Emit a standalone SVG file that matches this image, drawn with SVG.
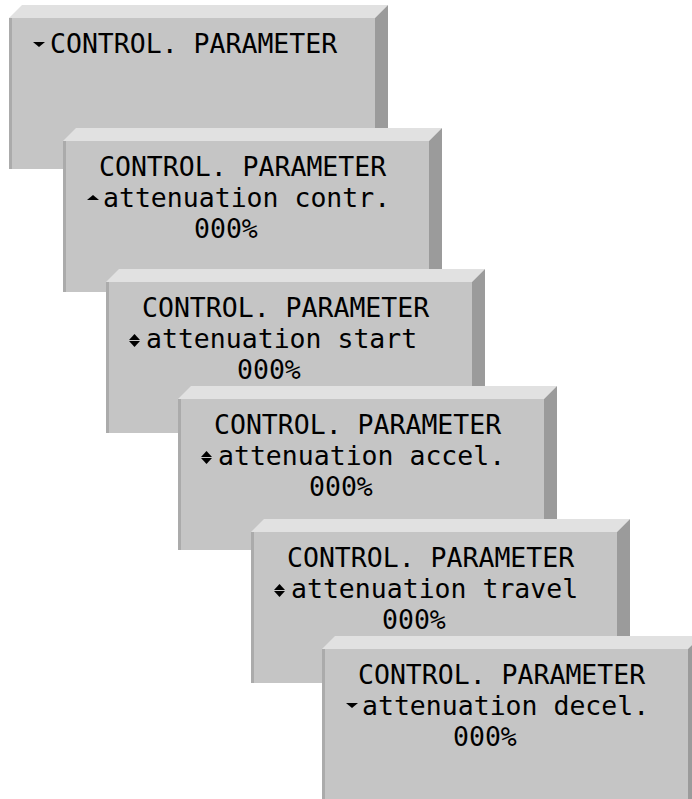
<svg xmlns="http://www.w3.org/2000/svg" width="692" height="799" viewBox="0 0 692 799">
  <defs>
    <style>
      .front { fill: #c5c5c5; }
      .top { fill: #e1e1e1; }
      .side { fill: #9b9b9b; }
      .edge { fill: #ababab; }
      .lcd { font-family: "DejaVu Sans Mono", "Liberation Mono", monospace; font-size: 26.5px; fill: #000000; }
      .ind { fill: #000000; }
    </style>
    <!-- one bevelled display panel, front face at (0,0), 366 x 151 -->
    <g id="panel">
      <polygon class="top" points="0,0 13,-13 379,-13 366,0"/>
      <polygon class="side" points="366,0 379,-13 379,151 366,151"/>
      <rect class="front" x="0" y="0" width="366" height="151"/>
      <rect class="edge" x="0" y="0" width="3" height="151"/>
    </g>
    <polygon id="ind-down" points="0,0 12,0 6,5"/>
    <polygon id="ind-up" points="6,0 12,5 0,5"/>
    <g id="ind-updown">
      <polygon points="5.5,0 11,6 0,6"/>
      <polygon points="0,7 11,7 5.5,13"/>
    </g>
  </defs>

  <!-- menu entry -->
  <g id="menu" transform="translate(9,18)">
    <use href="#panel"/>
    <use href="#ind-down" class="ind" x="24" y="24"/>
    <text class="lcd" x="41" y="35">CONTROL. PARAMETER</text>
  </g>

  <g id="attenuation-contr" transform="translate(63,141)">
    <use href="#panel"/>
    <text class="lcd" x="36" y="35">CONTROL. PARAMETER</text>
    <use href="#ind-up" class="ind" x="24" y="54"/>
    <text class="lcd" x="40" y="66">attenuation contr.</text>
    <text class="lcd" x="131" y="97">000%</text>
  </g>

  <g id="attenuation-start" transform="translate(106,282)">
    <use href="#panel"/>
    <text class="lcd" x="36" y="35">CONTROL. PARAMETER</text>
    <use href="#ind-updown" class="ind" x="23" y="52"/>
    <text class="lcd" x="40" y="66">attenuation start</text>
    <text class="lcd" x="131" y="97">000%</text>
  </g>

  <g id="attenuation-accel" transform="translate(178,399)">
    <use href="#panel"/>
    <text class="lcd" x="36" y="35">CONTROL. PARAMETER</text>
    <use href="#ind-updown" class="ind" x="23" y="52"/>
    <text class="lcd" x="40" y="66">attenuation accel.</text>
    <text class="lcd" x="131" y="97">000%</text>
  </g>

  <g id="attenuation-travel" transform="translate(251,532)">
    <use href="#panel"/>
    <text class="lcd" x="36" y="35">CONTROL. PARAMETER</text>
    <use href="#ind-updown" class="ind" x="23" y="52"/>
    <text class="lcd" x="40" y="66">attenuation travel</text>
    <text class="lcd" x="131" y="97">000%</text>
  </g>

  <g id="attenuation-decel" transform="translate(322,649)">
    <use href="#panel"/>
    <text class="lcd" x="36" y="35">CONTROL. PARAMETER</text>
    <use href="#ind-down" class="ind" x="24" y="54"/>
    <text class="lcd" x="40" y="66">attenuation decel.</text>
    <text class="lcd" x="131" y="97">000%</text>
  </g>

  <g id="connectors"/>
</svg>
